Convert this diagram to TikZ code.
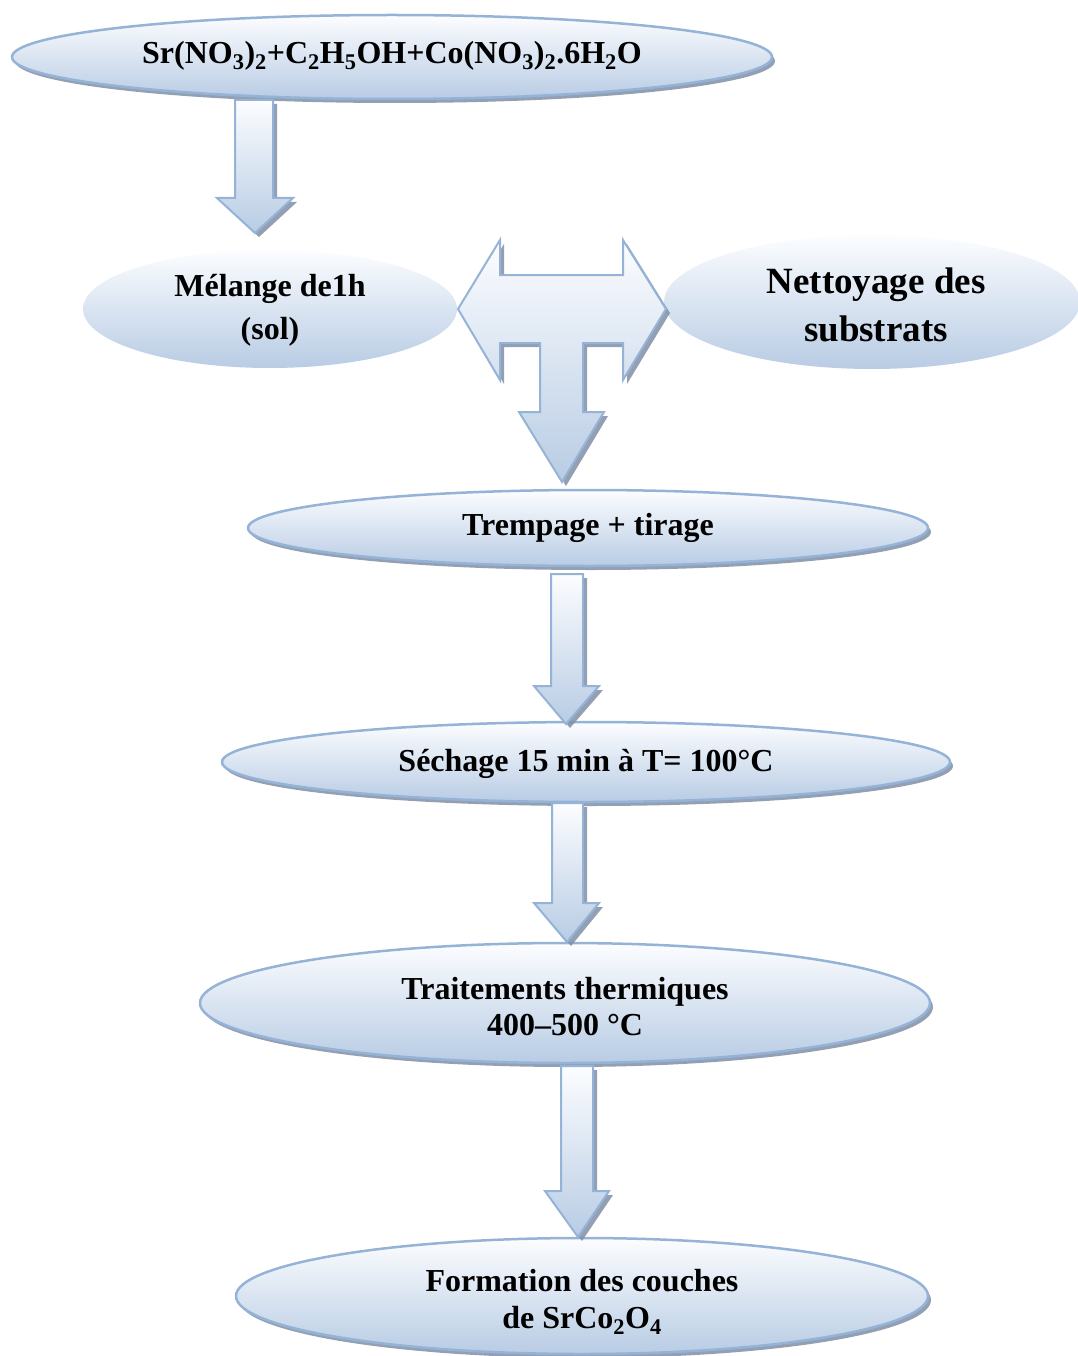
\documentclass[tikz,border=0pt]{standalone}
\usepackage{fontspec}
\setmainfont{Liberation Serif}
\definecolor{edgeblue}{RGB}{149,179,215}
\definecolor{fillbot}{RGB}{184,204,228}
\definecolor{filltop}{RGB}{252,253,255}
\definecolor{dropgray}{RGB}{128,142,165}
\tikzset{
  card/.style={top color=filltop, bottom color=fillbot, draw=edgeblue, line width=2.5pt},
  softcard/.style={top color=filltop, bottom color=fillbot},
  drop/.style={fill=dropgray, opacity=0.85},
  arrowbody/.style={top color=filltop, bottom color=fillbot, draw=edgeblue, line width=2pt, line join=miter},
  lbl/.style={font=\bfseries\fontsize{32}{36}\selectfont, align=center, inner sep=0pt},
}
\newcommand\chsub[1]{\textsubscript{#1}}
% ellipse with border and drop shadow: cx, cy, rx, ry
\newcommand\framedoval[4]{%
  \fill[drop] (#1+3,#2+4) ellipse [x radius=#3, y radius=#4];
  \path[card] (#1,#2) ellipse [x radius=#3, y radius=#4];}
% downward block arrow: shaft left, shaft right, shaft top, head top, head left, head right, tip x, tip y
\newcommand\downblock[8]{%
  \fill[drop, shift={(4,4)}] (#1,#3) -- (#2,#3) -- (#2,#4) -- (#6,#4) -- (#7,#8) -- (#5,#4) -- (#1,#4) -- cycle;
  \path[arrowbody] (#1,#3) -- (#2,#3) -- (#2,#4) -- (#6,#4) -- (#7,#8) -- (#5,#4) -- (#1,#4) -- cycle;}
\begin{document}
\begin{tikzpicture}[x=1pt, y=-1pt]
\useasboundingbox (0,0) rectangle (1077,1356);

% process steps
\framedoval{392}{57}{380}{42}
\path[softcard] (270,309) ellipse [x radius=187, y radius=59];
\path[softcard] (872,302) ellipse [x radius=208, y radius=67];
\framedoval{588}{528}{340}{38}
\framedoval{586}{762}{364}{40}
\framedoval{565}{1003}{365}{60}
\framedoval{582}{1296}{346}{58}

\node[lbl] (mix) at (392,56) {Sr(NO\chsub{3})\chsub{2}+C\chsub{2}H\chsub{5}OH+Co(NO\chsub{3})\chsub{2}.6H\chsub{2}O};
\node[lbl, font=\bfseries\fontsize{32}{43}\selectfont] (sol) at (270,310) {Mélange de1h\\(sol)};
\node[lbl, font=\bfseries\fontsize{37}{48}\selectfont] (clean) at (876,305) {Nettoyage des\\substrats};
\node[lbl] (dip) at (588,528) {Trempage + tirage};
\node[lbl] (dry) at (586,764) {Séchage 15 min à T= 100°C};
\node[lbl] (heat) at (565,1007) {Traitements thermiques\\400–500 °C};
\node[lbl, font=\bfseries\fontsize{32}{37}\selectfont] (film) at (582,1302) {Formation des couches\\de SrCo\chsub{2}O\chsub{4}};

% connectors
\downblock{235}{273}{100}{198}{217}{293}{255}{233}
\fill[drop, shift={(4,4)}] (458,309) -- (500,240) -- (500,275) -- (623,275) -- (623,240) -- (666,309)
  -- (623,380) -- (623,343) -- (583,343) -- (583,412) -- (604,412) -- (562,482) -- (519,412)
  -- (540,412) -- (540,343) -- (500,343) -- (500,380) -- cycle;
\path[arrowbody] (458,309) -- (500,240) -- (500,275) -- (623,275) -- (623,240) -- (666,309)
  -- (623,380) -- (623,343) -- (583,343) -- (583,412) -- (604,412) -- (562,482) -- (519,412)
  -- (540,412) -- (540,343) -- (500,343) -- (500,380) -- cycle;
\downblock{551}{583}{574}{686}{534}{599}{566}{724}
\downblock{552}{583}{803}{903}{534}{599}{567}{942}
\downblock{561}{593}{1066}{1191}{545}{609}{578}{1237}
\end{tikzpicture}
\end{document}
